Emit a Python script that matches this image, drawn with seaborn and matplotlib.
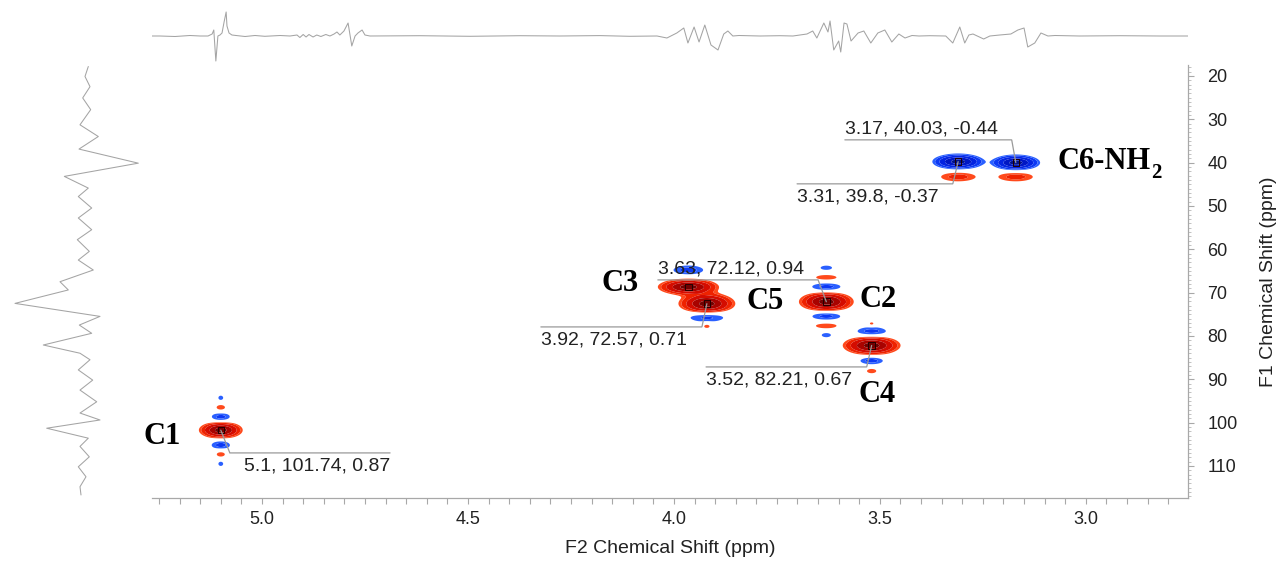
import numpy as np
import matplotlib
matplotlib.use("Agg")
import matplotlib.pyplot as plt
import seaborn as sns
from matplotlib.ticker import MultipleLocator

# ---------------- data ----------------
# main cross peaks (F2 1H ppm, F1 13C ppm), amplitude sign = phase, Gaussian widths (ppm)
peak_f2 = [5.10, 3.965, 3.92, 3.63, 3.52, 3.31, 3.17]
peak_f1 = [101.74, 68.7, 72.57, 72.12, 82.21, 39.80, 40.03]
peak_amp = [10, 10, 10, 10, 10, -10, -10]
peak_sx = [0.0248, 0.0345, 0.0322, 0.0310, 0.0327, 0.0292, 0.0275]
peak_sy = [0.96, 0.92, 1.18, 1.14, 1.08, 0.88, 0.88]

# F1 truncation side lobes: parent peak index, F1 ppm, amplitude, widths
lobe_parent = [0, 0, 0, 0, 0, 0, 1, 2, 2, 3, 3, 3, 3, 3, 3, 4, 4, 4, 4, 5, 6]
lobe_f1 = [98.7, 105.2, 96.6, 107.2, 94.3, 109.5, 64.8, 75.6, 77.7,
           68.7, 75.4, 66.6, 77.6, 64.3, 79.8, 79.0, 85.7, 77.2, 88.1, 43.3, 43.3]
lobe_amp = [-2, -2, 1.5, 1.5, -1.5, -1.5, -2, -2, 1.5,
            -2, -2, 1.5, 1.5, -1.5, -1.5, -2, -2, 1.5, 1.5, 2, 2]
lobe_sx = [0.0190, 0.0190, 0.0125, 0.0125, 0.0065, 0.0065, 0.0305, 0.037, 0.0095,
           0.0305, 0.0305, 0.030, 0.030, 0.0155, 0.0125, 0.0305, 0.0235, 0.0065, 0.0125,
           0.035, 0.035]
lobe_sy = [0.88, 0.88, 0.74, 0.74, 0.56, 0.56, 0.88, 1.0, 0.56,
           0.88, 0.88, 0.74, 0.74, 0.56, 0.56, 0.88, 0.72, 0.40, 0.56, 0.88, 0.88]

# peak labels
name_text = ["C1", "C3", "C5", "C2", "C4"]
name_f2 = [5.243, 4.131, 3.779, 3.505, 3.507]
name_f1 = [103.1, 68.0, 72.16, 71.7, 93.6]

# peak-pick annotations: text, peak index, corner (f2, f1), line end f2, text f2, text above?
ann_text = ["3.17, 40.03, -0.44", "3.31, 39.8, -0.37", "3.63, 72.12, 0.94",
            "3.92, 72.57, 0.71", "3.52, 82.21, 0.67", "5.1, 101.74, 0.87"]
ann_peak = [6, 5, 3, 2, 4, 0]
ann_cx = [3.180, 3.323, 3.650, 3.932, 3.532, 5.078]
ann_cy = [34.77, 44.92, 67.08, 77.93, 87.16, 107.0]
ann_ex = [3.585, 3.701, 4.039, 4.323, 3.922, 4.689]
ann_tx = [3.585, 3.701, 4.039, 4.323, 3.922, 5.044]
ann_above = [True, False, True, False, False, False]

# external 1H projection (top) : ppm, intensity
top_f2 = [5.267, 5.248, 5.211, 5.175, 5.150, 5.131, 5.121, 5.117, 5.112, 5.107, 5.102,
          5.097, 5.092, 5.087, 5.085, 5.080, 5.073, 5.063, 5.041, 5.017, 4.993, 4.956,
          4.932, 4.915, 4.908, 4.900, 4.893, 4.886, 4.876, 4.867, 4.857, 4.845, 4.835,
          4.825, 4.818, 4.811, 4.801, 4.791, 4.782, 4.774, 4.767, 4.757, 4.750, 4.738,
          4.617, 4.495, 4.374, 4.277, 4.180, 4.107, 4.041, 4.017, 3.993, 3.976, 3.966,
          3.951, 3.939, 3.925, 3.910, 3.893, 3.879, 3.869, 3.857, 3.842, 3.791, 3.743,
          3.711, 3.677, 3.663, 3.653, 3.636, 3.626, 3.621, 3.612, 3.600, 3.595, 3.587,
          3.580, 3.570, 3.553, 3.539, 3.522, 3.505, 3.488, 3.471, 3.454, 3.439, 3.422,
          3.405, 3.379, 3.340, 3.323, 3.306, 3.294, 3.284, 3.274, 3.248, 3.233, 3.209,
          3.182, 3.165, 3.150, 3.141, 3.124, 3.109, 3.092, 3.075, 3.015, 2.917, 2.820,
          2.748]
top_int = [0, 0, -0.5, 0.5, 0, 0, 2, 6, -25, 0, 1,
           3, 14, 24, 10, 3, 1, 0.5, -0.5, 0.5, -0.3, 0.5,
           0, 1, -1.5, 1.5, -1, 1.5, -1, 1, -0.5, 1.5, 0,
           2, 4, 1, 5, 13, -10, 0, 3, 6, 1, 0,
           0.3, -0.3, 0.3, 0, 0.4, -0.3, 0, -2, 3, 8, -7,
           9, -6, 11, -9, -14, 2, 5, 0, 0.5, 0, 0.3,
           0, 2, 5, -2, 13, 4, 15, -14, -5, -16, 13,
           12, -5, 3, 5, -7, 3, 6, -6, 2, -2, 0.5,
           0, 0.3, 0, -7, 9, -7, 1, 2, -3, 0, 1,
           2, 6, 8, -11, -7, 3, 0, 0.5, 0, 0.3, 0,
           0]

# external 13C projection (left) : ppm, intensity
left_f1 = [17.85, 20.15, 22.5, 25.1, 27.8, 31.3, 34.0, 36.9, 40.15, 43.2, 45.9, 47.85,
           50.5, 52.8, 55.5, 57.8, 60.5, 62.5, 64.8, 67.5, 69.4, 72.5, 75.5, 77.5, 79.4,
           82.1, 84.0, 85.5, 87.85, 90.2, 92.5, 95.2, 97.8, 99.4, 101.3, 103.6, 105.5,
           107.9, 110.2, 112.5, 114.8, 116.7]
left_int = [-0.3, 3, -2, 5.3, -2.7, 8, -10.3, 9, -50.3, 23.7, -0.3, 9.7,
            -3.7, 9.7, -3.7, 10.7, -1.3, 9.7, -5.3, 28, 19.7, 73, -12, 8.7, -3.7,
            44.7, 8, -2, 9.7, -4.7, 8, -8.7, 8, -12, 41.3, -0.3, 8,
            -1.3, 9.7, 2, 8, 7]

xticks = [5.0, 4.5, 4.0, 3.5, 3.0]
yticks = [20, 30, 40, 50, 60, 70, 80, 90, 100, 110]

# ---------------- figure ----------------
sns.set_theme(style="white")
plt.rcParams["font.family"] = ["Liberation Sans", "DejaVu Sans"]

W, H = 1283, 561
fig = plt.figure(figsize=(W / 100, H / 100), dpi=100)
L, R, T, B = 152, 1188, 65, 498
ax = fig.add_axes([L / W, (H - B) / H, (R - L) / W, (B - T) / H])
ax_top = fig.add_axes([L / W, (H - T) / H, (R - L) / W, 60 / H])
ax_left = fig.add_axes([0, (H - B) / H, 150 / W, (B - T) / H])

XLIM = (5.267, 2.752)
YLIM = (117.4, 17.5)

# 2D surface built from the peak table
gx = np.linspace(2.70, 5.30, 2200)
gy = np.linspace(15.0, 120.0, 1600)
Z = np.zeros((gy.size, gx.size))
comps = [(peak_f2[i], peak_f1[i], peak_amp[i], peak_sx[i], peak_sy[i]) for i in range(len(peak_f2))]
comps += [(peak_f2[p], lobe_f1[k], lobe_amp[k], lobe_sx[k], lobe_sy[k]) for k, p in enumerate(lobe_parent)]
for x0, y0, a, sx, sy in comps:
    Z += a * np.outer(np.exp(-0.5 * ((gy - y0) / sy) ** 2), np.exp(-0.5 * ((gx - x0) / sx) ** 2))

pos_levels = [1, 1.6, 3, 5.5, 8.5, 1e4]
pos_colors = ["#ff4a1c", "#ee2200", "#d40c00", "#a80300", "#720000"]
neg_levels = [-1e4, -8.5, -5.5, -3, -1.6, -1]
neg_colors = ["#00108c", "#0016c4", "#0424e0", "#0c38f4", "#2a60ff"]
ax.contourf(gx, gy, Z, levels=pos_levels, colors=pos_colors, antialiased=True)
ax.contourf(gx, gy, Z, levels=neg_levels, colors=neg_colors, antialiased=True)

# peak-centre markers
ax.scatter(peak_f2, peak_f1, marker="s", s=22, facecolors="none",
           edgecolors="#220000", linewidths=0.7, zorder=5)

# annotations
line_col = "#9a9a9a"
for i, txt in enumerate(ann_text):
    p = ann_peak[i]
    ax.plot([peak_f2[p], ann_cx[i], ann_ex[i]], [peak_f1[p], ann_cy[i], ann_cy[i]],
            color=line_col, lw=0.9, zorder=6, solid_joinstyle="miter")
    if ann_above[i]:
        ax.annotate(txt, (ann_tx[i], ann_cy[i]), xytext=(0, 2), textcoords="offset points",
                    ha="left", va="bottom", fontsize=14, color="#222222")
    else:
        ax.annotate(txt, (ann_tx[i], ann_cy[i]), xytext=(0, -3), textcoords="offset points",
                    ha="left", va="top", fontsize=14, color="#222222")

serif = ["Liberation Serif", "DejaVu Serif"]
for t, x, y in zip(name_text, name_f2, name_f1):
    ax.text(x, y, t, family=serif, weight="bold", fontsize=22, ha="center",
            va="center", color="black", clip_on=False)
tc6 = ax.text(3.070, 39.85, "C6-NH", family=serif, weight="bold", fontsize=22,
              ha="left", va="center", color="black", clip_on=False)
ax.annotate("2", xy=(1, 0.12), xycoords=tc6, xytext=(0.5, 0), textcoords="offset points",
            family=serif, weight="bold", fontsize=15, ha="left", va="center", color="black")

ax.set_xlim(*XLIM)
ax.set_ylim(*YLIM)
for s in ["top", "left"]:
    ax.spines[s].set_visible(False)
for s in ["bottom", "right"]:
    ax.spines[s].set_color("#a8a8a8")
    ax.spines[s].set_linewidth(0.9)
ax.yaxis.tick_right()
ax.yaxis.set_label_position("right")
ax.set_xticks(xticks)
ax.set_xticklabels([f"{v:.1f}" for v in xticks])
ax.xaxis.set_minor_locator(MultipleLocator(0.05))
ax.set_yticks(yticks)
ax.yaxis.set_minor_locator(MultipleLocator(1))
ax.tick_params(axis="x", which="both", direction="out", length=4, width=0.8,
               color="#a8a8a8", bottom=True, labelsize=13, labelcolor="#222222", pad=5)
ax.tick_params(axis="y", which="major", direction="out", length=4, width=0.8,
               color="#a8a8a8", right=True, labelsize=13, labelcolor="#222222", pad=10)
ax.tick_params(axis="y", which="minor", direction="out", length=2, width=0.6,
               color="#b8b8b8", right=True)
ax.set_xlabel("F2 Chemical Shift (ppm)", fontsize=14, color="#222222", labelpad=9)
ax.set_ylabel("F1 Chemical Shift (ppm)", fontsize=14, color="#222222", labelpad=16)
ax.grid(False)

# projections
sns.lineplot(x=top_f2, y=top_int, sort=False, estimator=None, color="#a4a4a4",
             lw=0.75, ax=ax_top)
ax_top.set_xlim(*XLIM)
ax_top.set_ylim(-29, 31)
ax_top.axis("off")

sns.lineplot(x=left_int, y=left_f1, sort=False, estimator=None, orient="y",
             color="#a4a4a4", lw=0.75, ax=ax_left)
ax_left.set_xlim(88, -62)
ax_left.set_ylim(*YLIM)
ax_left.axis("off")

fig.savefig("out.png", dpi=100)
